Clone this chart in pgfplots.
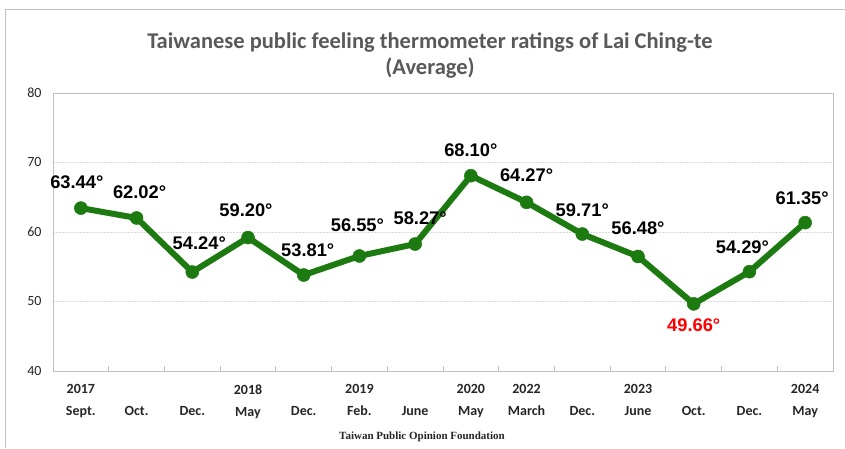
\documentclass[border=0pt]{standalone}
\usepackage{pgfplots}
\pgfplotsset{compat=1.18}
\usepackage{pgfplotstable}
\usepackage{fontspec}
\setmainfont{Carlito}
\newfontfamily\arialfont{Liberation Sans}
\newfontfamily\seriffont{Liberation Serif}
\definecolor{lgreen}{RGB}{28,122,16}
\definecolor{titlegray}{RGB}{89,89,89}
\definecolor{gridgray}{RGB}{217,217,217}
\definecolor{framegray}{RGB}{191,191,191}
\pgfplotstableread{
x y dx dy
0 63.44 -4 26
1 62.02 3 26
2 54.24 7 29
3 59.20 -2 27
4 53.81 4 25
5 56.55 -2 31
6 58.27 5 26
7 68.10 0 26
8 64.27 0 27
9 59.71 0 24
10 56.48 0 28
12 54.29 -7 24
13 61.35 -3 24
}\labels
\pgfplotstableread{
x y
0 63.44
1 62.02
2 54.24
3 59.20
4 53.81
5 56.55
6 58.27
7 68.10
8 64.27
9 59.71
10 56.48
11 49.66
12 54.29
13 61.35
}\series
\begin{document}
\begin{tikzpicture}[x=1pt,y=1pt]
\path[use as bounding box] (0,0) rectangle (845,448);
\draw[framegray, line width=1pt] (5,0) -- (5,438) -- (845,438);
\node[align=center, font=\fontsize{22.5}{26}\selectfont\bfseries, text=titlegray] at (430,393) {Taiwanese public feeling thermometer ratings of Lai Ching-te\\(Average)};
\node[font=\seriffont\fontsize{11}{13}\selectfont\bfseries, text=black!85] at (422,11) {Taiwan Public Opinion Foundation};
\begin{axis}[
  at={(53pt,77pt)}, anchor=south west, scale only axis,
  width=780pt, height=278pt,
  xmin=-0.5, xmax=13.5, ymin=40, ymax=80,
  ytick={40,50,60,70,80},
  /pgf/number format/assume math mode=true,
  ymajorgrids, grid style={gridgray, line width=0.8pt, dashed, dash pattern=on 2pt off 1pt},
  axis line style={framegray, line width=0.8pt},
  xtick={0,...,13},
  xticklabels={{2017\\Sept.},{\phantom{2017}\\Oct.},{\phantom{2017}\\Dec.},{2018\\May},{\phantom{2017}\\Dec.},{2019\\Feb.},{\phantom{2017}\\June},{2020\\May},{2022\\March},{\phantom{2017}\\Dec.},{2023\\June},{\phantom{2017}\\Oct.},{\phantom{2017}\\Dec.},{2024\\May}},
  xticklabel style={align=center, anchor=north, font=\fontsize{14}{22}\selectfont\bfseries, text=black!85, yshift=-10pt},
  major x tick style={draw=none},
  minor xtick={0.5,1.5,...,12.5},
  minor x tick style={framegray, line width=0.8pt},
  minor tick length=5pt,
  tick align=inside,
  xtick pos=lower, ytick pos=left,
  major y tick style={draw=none},
  yticklabel style={font=\fontsize{14}{16}\selectfont, text=black!85, xshift=-8pt},
  clip=false,
]
\addplot[lgreen, line width=6pt, mark=*, mark size=6.5pt, mark options={fill=lgreen, draw=lgreen, line width=0.5pt}] table[x=x,y=y] {\series};
\addplot[draw=none, mark=none,
  visualization depends on={\thisrow{dx} \as \dx},
  visualization depends on={\thisrow{dy} \as \dy},
  nodes near coords={\pgfmathprintnumber[fixed,precision=2,fixed zerofill,assume math mode=true]{\pgfplotspointmeta}°},
  point meta=explicit,
  every node near coord/.append style={anchor=center, xshift=\dx pt, yshift=\dy pt, font=\arialfont\fontsize{18.3}{20}\selectfont\bfseries, text=black}
] table[x=x,y=y,meta=y] {\labels};
\addplot[draw=none, mark=none,
  nodes near coords={\pgfmathprintnumber[fixed,precision=2,fixed zerofill,assume math mode=true]{\pgfplotspointmeta}°},
  point meta=explicit,
  every node near coord/.append style={anchor=center, yshift=-21pt, font=\arialfont\fontsize{18.3}{20}\selectfont\bfseries, text=red}
] coordinates {(11,49.66) [49.66]};
\end{axis}
\end{tikzpicture}
\end{document}
